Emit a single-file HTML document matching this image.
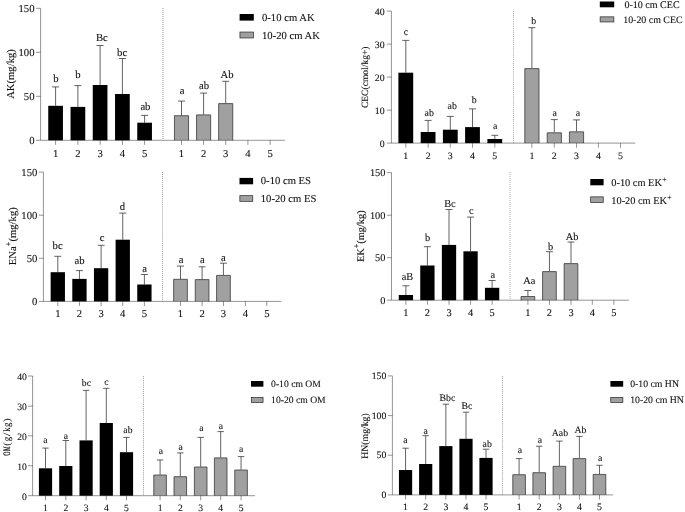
<!DOCTYPE html>
<html><head><meta charset="utf-8"><title>Figure</title>
<style>
html,body{margin:0;padding:0;background:#fff;}
body{width:685px;height:512px;overflow:hidden;}
svg{display:block;font-family:"Liberation Serif",serif;fill:#111;filter:grayscale(1) blur(0.3px);}
text{stroke:#111;stroke-width:0.1px;text-rendering:geometricPrecision;}
</style></head><body>
<svg width="685" height="512" viewBox="0 0 685 512">
<rect x="0" y="0" width="685" height="512" fill="#fff"/>
<text transform="translate(34.5 143.81)" text-anchor="end" font-size="10.65">0</text>
<text transform="translate(34.5 99.81)" text-anchor="end" font-size="10.65">50</text>
<text transform="translate(34.5 55.81)" text-anchor="end" font-size="10.65">100</text>
<text transform="translate(34.5 11.81)" text-anchor="end" font-size="10.65">150</text>
<text transform="translate(55.6 156.7)" text-anchor="middle" font-size="10.65">1</text>
<text transform="translate(77.9 156.7)" text-anchor="middle" font-size="10.65">2</text>
<text transform="translate(100.1 156.7)" text-anchor="middle" font-size="10.65">3</text>
<text transform="translate(122.4 156.7)" text-anchor="middle" font-size="10.65">4</text>
<text transform="translate(144.6 156.7)" text-anchor="middle" font-size="10.65">5</text>
<text transform="translate(181.5 156.7)" text-anchor="middle" font-size="10.65">1</text>
<text transform="translate(203.6 156.7)" text-anchor="middle" font-size="10.65">2</text>
<text transform="translate(225.7 156.7)" text-anchor="middle" font-size="10.65">3</text>
<text transform="translate(247.9 156.7)" text-anchor="middle" font-size="10.65">4</text>
<text transform="translate(270.1 156.7)" text-anchor="middle" font-size="10.65">5</text>
<path d="M163 8V140.3" fill="none" stroke="#999" stroke-width="1" stroke-dasharray="1 1"/>
<path d="M55.6 105.8V86.9M52.1 86.9H59.1M77.9 106.9V85.6M74.4 85.6H81.4M100.1 85V45.5M96.6 45.5H103.6M122.4 94V58.5M118.9 58.5H125.9M144.6 122.7V115.4M141.1 115.4H148.1M181.5 115.4V101.1M178 101.1H185M203.6 114.6V93.1M200.1 93.1H207.1M225.7 103.3V81.3M222.2 81.3H229.2" fill="none" stroke="#303030" stroke-width="0.75"/>
<rect x="48.25" y="105.8" width="14.7" height="34.5" fill="#000"/>
<rect x="70.55" y="106.9" width="14.7" height="33.4" fill="#000"/>
<rect x="92.75" y="85" width="14.7" height="55.3" fill="#000"/>
<rect x="115.05" y="94" width="14.7" height="46.3" fill="#000"/>
<rect x="137.25" y="122.7" width="14.7" height="17.6" fill="#000"/>
<rect x="174.45" y="115.7" width="14.1" height="24.6" fill="#a0a0a4"/>
<path d="M174.45 140.3V115.7H188.55V140.3" fill="none" stroke="#303030" stroke-width="0.75"/>
<rect x="196.55" y="114.9" width="14.1" height="25.4" fill="#a0a0a4"/>
<path d="M196.55 140.3V114.9H210.65V140.3" fill="none" stroke="#303030" stroke-width="0.75"/>
<rect x="218.65" y="103.6" width="14.1" height="36.7" fill="#a0a0a4"/>
<path d="M218.65 140.3V103.6H232.75V140.3" fill="none" stroke="#303030" stroke-width="0.75"/>
<path d="M40.6 8.3V140.3H284.9" fill="none" stroke="#000" stroke-width="0.42"/>
<path d="M36 140.3H40.6M36 96.3H40.6M36 52.3H40.6M36 8.3H40.6M55.6 140.3V144.9M77.9 140.3V144.9M100.1 140.3V144.9M122.4 140.3V144.9M144.6 140.3V144.9M181.5 140.3V144.9M203.6 140.3V144.9M225.7 140.3V144.9M247.9 140.3V144.9M270.1 140.3V144.9" fill="none" stroke="#000" stroke-width="0.42"/>
<text transform="translate(55.8 82.4)" text-anchor="middle" font-size="10.65">b</text>
<text transform="translate(77.8 78.3)" text-anchor="middle" font-size="10.65">b</text>
<text transform="translate(101.8 40.5)" text-anchor="middle" font-size="10.65">Bc</text>
<text transform="translate(122.1 55.5)" text-anchor="middle" font-size="10.65">bc</text>
<text transform="translate(145.4 109.6)" text-anchor="middle" font-size="10.65">ab</text>
<text transform="translate(182 94.2)" text-anchor="middle" font-size="10.65">a</text>
<text transform="translate(204 89.3)" text-anchor="middle" font-size="10.65">ab</text>
<text transform="translate(227.1 77.9)" text-anchor="middle" font-size="10.65">Ab</text>
<rect x="239.6" y="14" width="14.2" height="6.6" fill="#000"/>
<rect x="239.95" y="32.05" width="13.5" height="5.9" fill="#a0a0a4" stroke="#303030" stroke-width="0.75"/>
<text transform="translate(262 20.87)" text-anchor="start" font-size="10.65">0-10 cm AK</text>
<text transform="translate(262 38.57)" text-anchor="start" font-size="10.65">10-20 cm AK</text>
<text transform="translate(14.01 74) rotate(-90)" text-anchor="middle" font-size="10.65">AK(mg/kg)</text>
<text transform="translate(384.6 146.75)" text-anchor="end" font-size="9.85">0</text>
<text transform="translate(384.6 113.75)" text-anchor="end" font-size="9.85">10</text>
<text transform="translate(384.6 80.75)" text-anchor="end" font-size="9.85">20</text>
<text transform="translate(384.6 47.75)" text-anchor="end" font-size="9.85">30</text>
<text transform="translate(384.6 14.75)" text-anchor="end" font-size="9.85">40</text>
<text transform="translate(405.8 158.96)" text-anchor="middle" font-size="9.85">1</text>
<text transform="translate(428.1 158.96)" text-anchor="middle" font-size="9.85">2</text>
<text transform="translate(450.3 158.96)" text-anchor="middle" font-size="9.85">3</text>
<text transform="translate(472.5 158.96)" text-anchor="middle" font-size="9.85">4</text>
<text transform="translate(494.8 158.96)" text-anchor="middle" font-size="9.85">5</text>
<text transform="translate(531.9 158.96)" text-anchor="middle" font-size="9.85">1</text>
<text transform="translate(554.3 158.96)" text-anchor="middle" font-size="9.85">2</text>
<text transform="translate(576.5 158.96)" text-anchor="middle" font-size="9.85">3</text>
<text transform="translate(598.4 158.96)" text-anchor="middle" font-size="9.85">4</text>
<text transform="translate(620.5 158.96)" text-anchor="middle" font-size="9.85">5</text>
<path d="M513.5 11V143.1" fill="none" stroke="#a8a8a8" stroke-width="1" stroke-dasharray="1.04 1.04"/>
<path d="M405.8 72.7V40.4M402.3 40.4H409.3M428.1 132V120.4M424.6 120.4H431.6M450.3 129.7V116.4M446.8 116.4H453.8M472.5 127.1V108.9M469 108.9H476M494.8 139V135.3M491.3 135.3H498.3M531.9 68.3V27.7M528.4 27.7H535.4M554.3 132.5V119.6M550.8 119.6H557.8M576.5 131.5V119.9M573 119.9H580" fill="none" stroke="#303030" stroke-width="0.75"/>
<rect x="398.4" y="72.7" width="14.8" height="70.4" fill="#000"/>
<rect x="420.7" y="132" width="14.8" height="11.1" fill="#000"/>
<rect x="442.9" y="129.7" width="14.8" height="13.4" fill="#000"/>
<rect x="465.1" y="127.1" width="14.8" height="16" fill="#000"/>
<rect x="487.4" y="139" width="14.8" height="4.1" fill="#000"/>
<rect x="524.8" y="68.6" width="14.2" height="74.5" fill="#a0a0a4"/>
<path d="M524.8 143.1V68.6H539V143.1" fill="none" stroke="#303030" stroke-width="0.75"/>
<rect x="547.2" y="132.8" width="14.2" height="10.3" fill="#a0a0a4"/>
<path d="M547.2 143.1V132.8H561.4V143.1" fill="none" stroke="#303030" stroke-width="0.75"/>
<rect x="569.4" y="131.8" width="14.2" height="11.3" fill="#a0a0a4"/>
<path d="M569.4 143.1V131.8H583.6V143.1" fill="none" stroke="#303030" stroke-width="0.75"/>
<path d="M391.4 11.1V143.1H635.4" fill="none" stroke="#000" stroke-width="0.42"/>
<path d="M386.8 143.1H391.4M386.8 110.1H391.4M386.8 77.1H391.4M386.8 44.1H391.4M386.8 11.1H391.4M405.8 143.1V147.7M428.1 143.1V147.7M450.3 143.1V147.7M472.5 143.1V147.7M494.8 143.1V147.7M531.9 143.1V147.7M554.3 143.1V147.7M576.5 143.1V147.7M598.4 143.1V147.7M620.5 143.1V147.7" fill="none" stroke="#000" stroke-width="0.42"/>
<text transform="translate(406 34.8)" text-anchor="middle" font-size="9.85">c</text>
<text transform="translate(429.2 116.1)" text-anchor="middle" font-size="9.85">ab</text>
<text transform="translate(452.2 108.6)" text-anchor="middle" font-size="9.85">ab</text>
<text transform="translate(474.1 102.5)" text-anchor="middle" font-size="9.85">b</text>
<text transform="translate(495.3 128.5)" text-anchor="middle" font-size="9.85">a</text>
<text transform="translate(533.6 24.4)" text-anchor="middle" font-size="9.85">b</text>
<text transform="translate(554.8 116.1)" text-anchor="middle" font-size="9.85">a</text>
<text transform="translate(577.9 115.7)" text-anchor="middle" font-size="9.85">a</text>
<rect x="599.8" y="1.5" width="14.4" height="5.8" fill="#000"/>
<rect x="600.15" y="16.85" width="13.7" height="5.1" fill="#a0a0a4" stroke="#303030" stroke-width="0.75"/>
<text transform="translate(624.4 8.1)" text-anchor="start" font-size="10.05">0-10 cm CEC</text>
<text transform="translate(623.2 22.7)" text-anchor="start" font-size="9.92">10-20 cm CEC</text>
<text transform="translate(368.35 77.3) rotate(-90)" text-anchor="middle" font-size="9.55">CEC(cmol/kg+)</text>
<text transform="translate(37.3 304.91)" text-anchor="end" font-size="10.65">0</text>
<text transform="translate(37.3 261.81)" text-anchor="end" font-size="10.65">50</text>
<text transform="translate(37.3 218.71)" text-anchor="end" font-size="10.65">100</text>
<text transform="translate(37.3 175.61)" text-anchor="end" font-size="10.65">150</text>
<text transform="translate(57.8 317.1)" text-anchor="middle" font-size="10.65">1</text>
<text transform="translate(79.45 317.1)" text-anchor="middle" font-size="10.65">2</text>
<text transform="translate(101.1 317.1)" text-anchor="middle" font-size="10.65">3</text>
<text transform="translate(122.75 317.1)" text-anchor="middle" font-size="10.65">4</text>
<text transform="translate(144.4 317.1)" text-anchor="middle" font-size="10.65">5</text>
<text transform="translate(180.5 317.1)" text-anchor="middle" font-size="10.65">1</text>
<text transform="translate(202.1 317.1)" text-anchor="middle" font-size="10.65">2</text>
<text transform="translate(223.45 317.1)" text-anchor="middle" font-size="10.65">3</text>
<text transform="translate(245.4 317.1)" text-anchor="middle" font-size="10.65">4</text>
<text transform="translate(266.8 317.1)" text-anchor="middle" font-size="10.65">5</text>
<path d="M162.5 172V301.4" fill="none" stroke="#a0a0a0" stroke-width="1" stroke-dasharray="1.01 1.01"/>
<path d="M57.8 272.2V256.3M54.3 256.3H61.3M79.45 278.9V270.6M75.95 270.6H82.95M101.1 268.2V245.3M97.6 245.3H104.6M122.75 239.7V213.1M119.25 213.1H126.25M144.4 284.5V274.5M140.9 274.5H147.9M180.5 279V266.1M177 266.1H184M202.1 279.3V266.8M198.6 266.8H205.6M223.45 275.1V263.2M219.95 263.2H226.95" fill="none" stroke="#303030" stroke-width="0.75"/>
<rect x="50.65" y="272.2" width="14.3" height="29.2" fill="#000"/>
<rect x="72.3" y="278.9" width="14.3" height="22.5" fill="#000"/>
<rect x="93.95" y="268.2" width="14.3" height="33.2" fill="#000"/>
<rect x="115.6" y="239.7" width="14.3" height="61.7" fill="#000"/>
<rect x="137.25" y="284.5" width="14.3" height="16.9" fill="#000"/>
<rect x="173.65" y="279.3" width="13.7" height="22.1" fill="#a0a0a4"/>
<path d="M173.65 301.4V279.3H187.35V301.4" fill="none" stroke="#303030" stroke-width="0.75"/>
<rect x="195.25" y="279.6" width="13.7" height="21.8" fill="#a0a0a4"/>
<path d="M195.25 301.4V279.6H208.95V301.4" fill="none" stroke="#303030" stroke-width="0.75"/>
<rect x="216.6" y="275.4" width="13.7" height="26" fill="#a0a0a4"/>
<path d="M216.6 301.4V275.4H230.3V301.4" fill="none" stroke="#303030" stroke-width="0.75"/>
<path d="M43.4 172.1V301.4H281.4" fill="none" stroke="#000" stroke-width="0.42"/>
<path d="M38.8 301.4H43.4M38.8 258.3H43.4M38.8 215.2H43.4M38.8 172.1H43.4M57.8 301.4V306M79.45 301.4V306M101.1 301.4V306M122.75 301.4V306M144.4 301.4V306M180.5 301.4V306M202.1 301.4V306M223.45 301.4V306M245.4 301.4V306M266.8 301.4V306" fill="none" stroke="#000" stroke-width="0.42"/>
<text transform="translate(57.6 248.7)" text-anchor="middle" font-size="10.65">bc</text>
<text transform="translate(79.5 263.6)" text-anchor="middle" font-size="10.65">ab</text>
<text transform="translate(102.2 240.9)" text-anchor="middle" font-size="10.65">c</text>
<text transform="translate(122.3 210.2)" text-anchor="middle" font-size="10.65">d</text>
<text transform="translate(144.7 271.7)" text-anchor="middle" font-size="10.65">a</text>
<text transform="translate(181 262.9)" text-anchor="middle" font-size="10.65">a</text>
<text transform="translate(202.25 262.9)" text-anchor="middle" font-size="10.65">a</text>
<text transform="translate(223.25 261.1)" text-anchor="middle" font-size="10.65">a</text>
<rect x="239.5" y="177.9" width="13.6" height="6.4" fill="#000"/>
<rect x="239.85" y="195.65" width="12.9" height="5.7" fill="#a0a0a4" stroke="#303030" stroke-width="0.75"/>
<text transform="translate(260.8 184.17)" text-anchor="start" font-size="10.65">0-10 cm ES</text>
<text transform="translate(260.8 201.57)" text-anchor="start" font-size="10.65">10-20 cm ES</text>
<text transform="translate(15.81 236.2) rotate(-90)" text-anchor="middle" font-size="10.65">ENa<tspan dy="-5" font-size="8.31">+</tspan><tspan dy="5">(mg/kg)</tspan></text>
<text transform="translate(385.4 303.62)" text-anchor="end" font-size="10.35">0</text>
<text transform="translate(385.4 261.12)" text-anchor="end" font-size="10.35">50</text>
<text transform="translate(385.4 218.62)" text-anchor="end" font-size="10.35">100</text>
<text transform="translate(385.4 176.02)" text-anchor="end" font-size="10.35">150</text>
<text transform="translate(405.9 316.4)" text-anchor="middle" font-size="10.35">1</text>
<text transform="translate(427.4 316.4)" text-anchor="middle" font-size="10.35">2</text>
<text transform="translate(449 316.4)" text-anchor="middle" font-size="10.35">3</text>
<text transform="translate(470.55 316.4)" text-anchor="middle" font-size="10.35">4</text>
<text transform="translate(492.1 316.4)" text-anchor="middle" font-size="10.35">5</text>
<text transform="translate(527.9 316.4)" text-anchor="middle" font-size="10.35">1</text>
<text transform="translate(549.45 316.4)" text-anchor="middle" font-size="10.35">2</text>
<text transform="translate(571 316.4)" text-anchor="middle" font-size="10.35">3</text>
<text transform="translate(592.3 316.4)" text-anchor="middle" font-size="10.35">4</text>
<text transform="translate(613.9 316.4)" text-anchor="middle" font-size="10.35">5</text>
<path d="M510 172V300.2" fill="none" stroke="#b0b0b0" stroke-width="1" stroke-dasharray="1 1"/>
<path d="M405.9 295V285.8M402.4 285.8H409.4M427.4 265.5V246.7M423.9 246.7H430.9M449 244.9V209.5M445.5 209.5H452.5M470.55 251.3V217.1M467.05 217.1H474.05M492.1 287.8V280.5M488.6 280.5H495.6M527.9 296.2V290.5M524.4 290.5H531.4M549.45 271.3V251.7M545.95 251.7H552.95M571 263.3V242M567.5 242H574.5" fill="none" stroke="#303030" stroke-width="0.75"/>
<rect x="398.75" y="295" width="14.3" height="5.2" fill="#000"/>
<rect x="420.25" y="265.5" width="14.3" height="34.7" fill="#000"/>
<rect x="441.85" y="244.9" width="14.3" height="55.3" fill="#000"/>
<rect x="463.4" y="251.3" width="14.3" height="48.9" fill="#000"/>
<rect x="484.95" y="287.8" width="14.3" height="12.4" fill="#000"/>
<rect x="521.05" y="296.5" width="13.7" height="3.7" fill="#a0a0a4"/>
<path d="M521.05 300.2V296.5H534.75V300.2" fill="none" stroke="#303030" stroke-width="0.75"/>
<rect x="542.6" y="271.6" width="13.7" height="28.6" fill="#a0a0a4"/>
<path d="M542.6 300.2V271.6H556.3V300.2" fill="none" stroke="#303030" stroke-width="0.75"/>
<rect x="564.15" y="263.6" width="13.7" height="36.6" fill="#a0a0a4"/>
<path d="M564.15 300.2V263.6H577.85V300.2" fill="none" stroke="#303030" stroke-width="0.75"/>
<path d="M391.5 172.6V300.2H628.9" fill="none" stroke="#000" stroke-width="0.42"/>
<path d="M386.9 300.2H391.5M386.9 257.7H391.5M386.9 215.2H391.5M386.9 172.6H391.5M405.9 300.2V304.8M427.4 300.2V304.8M449 300.2V304.8M470.55 300.2V304.8M492.1 300.2V304.8M527.9 300.2V304.8M549.45 300.2V304.8M571 300.2V304.8M592.3 300.2V304.8M613.9 300.2V304.8" fill="none" stroke="#000" stroke-width="0.42"/>
<text transform="translate(407.5 279.9)" text-anchor="middle" font-size="10.35">aB</text>
<text transform="translate(427.7 240.8)" text-anchor="middle" font-size="10.35">b</text>
<text transform="translate(449.9 206.7)" text-anchor="middle" font-size="10.35">Bc</text>
<text transform="translate(471.2 213.7)" text-anchor="middle" font-size="10.35">c</text>
<text transform="translate(492.8 277.7)" text-anchor="middle" font-size="10.35">a</text>
<text transform="translate(529.3 283.6)" text-anchor="middle" font-size="10.35">Aa</text>
<text transform="translate(550.7 249.9)" text-anchor="middle" font-size="10.35">b</text>
<text transform="translate(572.2 239.7)" text-anchor="middle" font-size="10.35">Ab</text>
<rect x="590.3" y="179" width="13.3" height="6.3" fill="#000"/>
<rect x="590.65" y="196.85" width="12.6" height="5.6" fill="#a0a0a4" stroke="#303030" stroke-width="0.75"/>
<text transform="translate(611.3 186.12)" text-anchor="start" font-size="10.35">0-10 cm EK<tspan dx="0.3" dy="-3.7" font-size="7.66">+</tspan></text>
<text transform="translate(611.3 204.12)" text-anchor="start" font-size="10.35">10-20 cm EK<tspan dx="0.3" dy="-3.7" font-size="7.66">+</tspan></text>
<text transform="translate(364.12 236.2) rotate(-90)" text-anchor="middle" font-size="10.35">EK<tspan dy="-5" font-size="8.07">+</tspan><tspan dy="5">(mg/kg)</tspan></text>
<text transform="translate(26.9 499.78)" text-anchor="end" font-size="9.65">0</text>
<text transform="translate(26.9 469.78)" text-anchor="end" font-size="9.65">10</text>
<text transform="translate(26.9 439.88)" text-anchor="end" font-size="9.65">20</text>
<text transform="translate(26.9 410.28)" text-anchor="end" font-size="9.65">30</text>
<text transform="translate(26.9 380.08)" text-anchor="end" font-size="9.65">40</text>
<text transform="translate(45.5 510.8)" text-anchor="middle" font-size="9.65">1</text>
<text transform="translate(65.8 510.8)" text-anchor="middle" font-size="9.65">2</text>
<text transform="translate(86.1 510.8)" text-anchor="middle" font-size="9.65">3</text>
<text transform="translate(106.3 510.8)" text-anchor="middle" font-size="9.65">4</text>
<text transform="translate(126.5 510.8)" text-anchor="middle" font-size="9.65">5</text>
<text transform="translate(160.1 510.8)" text-anchor="middle" font-size="9.65">1</text>
<text transform="translate(180.3 510.8)" text-anchor="middle" font-size="9.65">2</text>
<text transform="translate(200.7 510.8)" text-anchor="middle" font-size="9.65">3</text>
<text transform="translate(220.7 510.8)" text-anchor="middle" font-size="9.65">4</text>
<text transform="translate(241.05 510.8)" text-anchor="middle" font-size="9.65">5</text>
<path d="M143.5 376V495.7" fill="none" stroke="#a0a0a0" stroke-width="1" stroke-dasharray="1.07 1.07"/>
<path d="M45.5 468.3V448.1M42.3 448.1H48.7M65.8 466V440.5M62.6 440.5H69M86.1 440.4V390.4M82.9 390.4H89.3M106.3 423V388.3M103.1 388.3H109.5M126.5 452.2V437.4M123.3 437.4H129.7M160.1 474.7V459.95M156.9 459.95H163.3M180.3 476.4V452.9M177.1 452.9H183.5M200.7 466.7V437.4M197.5 437.4H203.9M220.7 457.6V431.6M217.5 431.6H223.9M241.05 469.7V456.6M237.85 456.6H244.25" fill="none" stroke="#303030" stroke-width="0.75"/>
<rect x="38.9" y="468.3" width="13.2" height="27.4" fill="#000"/>
<rect x="59.2" y="466" width="13.2" height="29.7" fill="#000"/>
<rect x="79.5" y="440.4" width="13.2" height="55.3" fill="#000"/>
<rect x="99.7" y="423" width="13.2" height="72.7" fill="#000"/>
<rect x="119.9" y="452.2" width="13.2" height="43.5" fill="#000"/>
<rect x="153.8" y="475" width="12.6" height="20.7" fill="#a0a0a4"/>
<path d="M153.8 495.7V475H166.4V495.7" fill="none" stroke="#303030" stroke-width="0.75"/>
<rect x="174" y="476.7" width="12.6" height="19" fill="#a0a0a4"/>
<path d="M174 495.7V476.7H186.6V495.7" fill="none" stroke="#303030" stroke-width="0.75"/>
<rect x="194.4" y="467" width="12.6" height="28.7" fill="#a0a0a4"/>
<path d="M194.4 495.7V467H207V495.7" fill="none" stroke="#303030" stroke-width="0.75"/>
<rect x="214.4" y="457.9" width="12.6" height="37.8" fill="#a0a0a4"/>
<path d="M214.4 495.7V457.9H227V495.7" fill="none" stroke="#303030" stroke-width="0.75"/>
<rect x="234.75" y="470" width="12.6" height="25.7" fill="#a0a0a4"/>
<path d="M234.75 495.7V470H247.35V495.7" fill="none" stroke="#303030" stroke-width="0.75"/>
<path d="M32.6 376V495.7H255" fill="none" stroke="#000" stroke-width="0.42"/>
<path d="M28 495.7H32.6M28 465.7H32.6M28 435.8H32.6M28 406.2H32.6M28 376H32.6M45.5 495.7V500.3M65.8 495.7V500.3M86.1 495.7V500.3M106.3 495.7V500.3M126.5 495.7V500.3M160.1 495.7V500.3M180.3 495.7V500.3M200.7 495.7V500.3M220.7 495.7V500.3M241.05 495.7V500.3" fill="none" stroke="#000" stroke-width="0.42"/>
<text transform="translate(45.5 443.3)" text-anchor="middle" font-size="9.65">a</text>
<text transform="translate(66 438.5)" text-anchor="middle" font-size="9.65">a</text>
<text transform="translate(86.4 385.8)" text-anchor="middle" font-size="9.65">bc</text>
<text transform="translate(106.4 384.9)" text-anchor="middle" font-size="9.65">c</text>
<text transform="translate(127.9 432.9)" text-anchor="middle" font-size="9.65">ab</text>
<text transform="translate(160.8 453.9)" text-anchor="middle" font-size="9.65">a</text>
<text transform="translate(180.7 449.5)" text-anchor="middle" font-size="9.65">a</text>
<text transform="translate(201.5 430.6)" text-anchor="middle" font-size="9.65">a</text>
<text transform="translate(221 428.8)" text-anchor="middle" font-size="9.65">a</text>
<text transform="translate(241.2 451.6)" text-anchor="middle" font-size="9.65">a</text>
<rect x="251" y="381" width="12.4" height="5.7" fill="#000"/>
<rect x="251.35" y="397.45" width="11.7" height="5" fill="#a0a0a4" stroke="#303030" stroke-width="0.75"/>
<text transform="translate(271.1 387.08)" text-anchor="start" font-size="9.65">0-10 cm OM</text>
<text transform="translate(271.1 403.18)" text-anchor="start" font-size="9.65">10-20 cm OM</text>
<g transform="translate(10 436.8) rotate(-90)" font-size="9.8" text-anchor="middle">
<text transform="translate(-16.8 0) scale(0.6 1)" style="stroke-width:0.25px">O</text>
<text transform="translate(-12 0) scale(0.52 1)" style="stroke-width:0.25px">M</text>
<text transform="translate(-7.2 0) scale(1.0 1)">(</text>
<text transform="translate(-2.4 0) scale(0.88 1)">g</text>
<text transform="translate(2.4 0) scale(1.3 1)">/</text>
<text transform="translate(7.2 0) scale(0.88 1)">k</text>
<text transform="translate(12 0) scale(0.88 1)">g</text>
<text transform="translate(16.8 0) scale(1.0 1)">)</text>
</g>
<text transform="translate(386.3 498.12)" text-anchor="end" font-size="9.75">0</text>
<text transform="translate(386.3 458.42)" text-anchor="end" font-size="9.75">50</text>
<text transform="translate(386.3 418.82)" text-anchor="end" font-size="9.75">100</text>
<text transform="translate(386.3 379.12)" text-anchor="end" font-size="9.75">150</text>
<text transform="translate(405.55 510.1)" text-anchor="middle" font-size="9.75">1</text>
<text transform="translate(425.7 510.1)" text-anchor="middle" font-size="9.75">2</text>
<text transform="translate(445.85 510.1)" text-anchor="middle" font-size="9.75">3</text>
<text transform="translate(466 510.1)" text-anchor="middle" font-size="9.75">4</text>
<text transform="translate(486 510.1)" text-anchor="middle" font-size="9.75">5</text>
<text transform="translate(519.1 510.1)" text-anchor="middle" font-size="9.75">1</text>
<text transform="translate(539.2 510.1)" text-anchor="middle" font-size="9.75">2</text>
<text transform="translate(559.4 510.1)" text-anchor="middle" font-size="9.75">3</text>
<text transform="translate(579.4 510.1)" text-anchor="middle" font-size="9.75">4</text>
<text transform="translate(599.5 510.1)" text-anchor="middle" font-size="9.75">5</text>
<path d="M502.5 376V494.9" fill="none" stroke="#a0a0a0" stroke-width="1" stroke-dasharray="1.07 1.07"/>
<path d="M405.55 470V448.2M402.35 448.2H408.75M425.7 464V435.7M422.5 435.7H428.9M445.85 446.1V404.2M442.65 404.2H449.05M466 438.8V412.2M462.8 412.2H469.2M486 457.9V449.2M482.8 449.2H489.2M519.1 474.4V458.6M515.9 458.6H522.3M539.2 472.4V446.2M536 446.2H542.4M559.4 466V441.1M556.2 441.1H562.6M579.4 458.3V436.4M576.2 436.4H582.6M599.5 474.1V465.3M596.3 465.3H602.7" fill="none" stroke="#303030" stroke-width="0.75"/>
<rect x="398.95" y="470" width="13.2" height="24.9" fill="#000"/>
<rect x="419.1" y="464" width="13.2" height="30.9" fill="#000"/>
<rect x="439.25" y="446.1" width="13.2" height="48.8" fill="#000"/>
<rect x="459.4" y="438.8" width="13.2" height="56.1" fill="#000"/>
<rect x="479.4" y="457.9" width="13.2" height="37" fill="#000"/>
<rect x="512.8" y="474.7" width="12.6" height="20.2" fill="#a0a0a4"/>
<path d="M512.8 494.9V474.7H525.4V494.9" fill="none" stroke="#303030" stroke-width="0.75"/>
<rect x="532.9" y="472.7" width="12.6" height="22.2" fill="#a0a0a4"/>
<path d="M532.9 494.9V472.7H545.5V494.9" fill="none" stroke="#303030" stroke-width="0.75"/>
<rect x="553.1" y="466.3" width="12.6" height="28.6" fill="#a0a0a4"/>
<path d="M553.1 494.9V466.3H565.7V494.9" fill="none" stroke="#303030" stroke-width="0.75"/>
<rect x="573.1" y="458.6" width="12.6" height="36.3" fill="#a0a0a4"/>
<path d="M573.1 494.9V458.6H585.7V494.9" fill="none" stroke="#303030" stroke-width="0.75"/>
<rect x="593.2" y="474.4" width="12.6" height="20.5" fill="#a0a0a4"/>
<path d="M593.2 494.9V474.4H605.8V494.9" fill="none" stroke="#303030" stroke-width="0.75"/>
<path d="M392.4 375.9V494.9H613.1" fill="none" stroke="#000" stroke-width="0.42"/>
<path d="M387.8 494.9H392.4M387.8 455.2H392.4M387.8 415.6H392.4M387.8 375.9H392.4M405.55 494.9V499.5M425.7 494.9V499.5M445.85 494.9V499.5M466 494.9V499.5M486 494.9V499.5M519.1 494.9V499.5M539.2 494.9V499.5M559.4 494.9V499.5M579.4 494.9V499.5M599.5 494.9V499.5" fill="none" stroke="#000" stroke-width="0.42"/>
<text transform="translate(405.5 442.6)" text-anchor="middle" font-size="9.75">a</text>
<text transform="translate(425.75 433.7)" text-anchor="middle" font-size="9.75">a</text>
<text transform="translate(447.4 400.8)" text-anchor="middle" font-size="9.75">Bbc</text>
<text transform="translate(467 408.7)" text-anchor="middle" font-size="9.75">Bc</text>
<text transform="translate(487.2 446.5)" text-anchor="middle" font-size="9.75">ab</text>
<text transform="translate(519.8 453.4)" text-anchor="middle" font-size="9.75">a</text>
<text transform="translate(540 443.4)" text-anchor="middle" font-size="9.75">a</text>
<text transform="translate(559.9 436)" text-anchor="middle" font-size="9.75">Aab</text>
<text transform="translate(580.4 432.8)" text-anchor="middle" font-size="9.75">Ab</text>
<text transform="translate(600.1 460.9)" text-anchor="middle" font-size="9.75">a</text>
<rect x="610.4" y="381" width="12.8" height="5.7" fill="#000"/>
<rect x="610.75" y="397.45" width="12.1" height="5" fill="#a0a0a4" stroke="#303030" stroke-width="0.75"/>
<text transform="translate(630.2 387.12)" text-anchor="start" font-size="9.75">0-10 cm HN</text>
<text transform="translate(630.2 403.22)" text-anchor="start" font-size="9.75">10-20 cm HN</text>
<text transform="translate(367.72 436) rotate(-90)" text-anchor="middle" font-size="9.75">HN(mg/kg)</text>
</svg>
</body></html>
